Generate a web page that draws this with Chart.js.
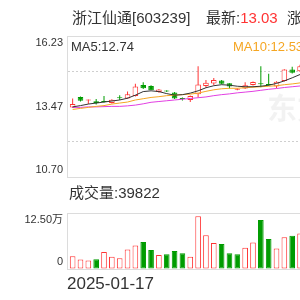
<!DOCTYPE html>
<html>
<head>
<meta charset="utf-8">
<title>浙江仙通</title>
<script src="https://cdn.jsdelivr.net/npm/chart.js@4/dist/chart.umd.min.js"></script>
<style>
  html, body { margin: 0; padding: 0; background: #fff; }
  body {
    width: 300px; height: 300px; overflow: hidden; position: relative;
    font-family: "Liberation Sans", "Noto Sans CJK SC", sans-serif; color: #333;
  }
  canvas { position: absolute; left: 0; }
  #priceChart { top: 0; }
  #volChart { top: 195px; }
  .txt { position: absolute; white-space: nowrap; }
  .big { font-size: 15px; line-height: 20px; }
  .ma { font-size: 13px; line-height: 16px; top: 39px; }
</style>
</head>
<body>
<canvas id="priceChart" width="330" height="195"></canvas>
<canvas id="volChart" width="330" height="105"></canvas>

<div class="txt big" style="left:72px; top:8px">浙江仙通[603239]</div>
<div class="txt big" style="left:206px; top:8px">最新:<span style="color:#f33">13.03</span></div>
<div class="txt big" style="left:287px; top:8px">涨幅</div>
<div class="txt ma" style="left:71px">MA5:12.74</div>
<div class="txt ma" style="left:233px; color:#f5a623">MA10:12.53</div>
<div class="txt big" style="left:69px; top:183px">成交量:39822</div>

<script>
// =========> data <=========
const dates = [
  "2025-01-17", "2025-01-20", "2025-01-21", "2025-01-22", "2025-01-23",
  "2025-01-24", "2025-01-27", "2025-02-05", "2025-02-06", "2025-02-07",
  "2025-02-10", "2025-02-11", "2025-02-12", "2025-02-13", "2025-02-14",
  "2025-02-17", "2025-02-18", "2025-02-19", "2025-02-20", "2025-02-21",
  "2025-02-24", "2025-02-25", "2025-02-26", "2025-02-27", "2025-02-28",
  "2025-03-03", "2025-03-04", "2025-03-05", "2025-03-06", "2025-03-07",
];
const openPrice = [
  13.43, 13.84, 13.70, 13.67, 13.67, 13.60, 13.82, 13.78, 13.88, 14.31,
  14.27, 14.03, 14.08, 14.01, 13.78, 13.72, 13.95, 14.27, 14.37, 14.48,
  14.38, 14.12, 14.17, 14.31, 14.36, 14.33, 14.25, 14.47, 14.92, 14.85,
];
const closePrice = [
  13.56, 13.69, 13.73, 13.60, 13.64, 13.73, 13.79, 13.95, 14.25, 14.18,
  14.10, 14.13, 14.05, 13.78, 13.76, 13.88, 14.33, 14.40, 14.50, 14.36,
  14.25, 14.16, 14.30, 14.43, 14.34, 14.31, 14.44, 14.92, 14.79, 15.04,
];
const highPrice = [
  13.78, 13.86, 13.74, 13.76, 13.88, 13.75, 13.91, 14.05, 14.36, 14.42,
  14.30, 14.15, 14.10, 14.03, 13.82, 13.90, 15.04, 14.50, 14.58, 14.50,
  14.38, 14.18, 14.42, 14.45, 15.04, 14.75, 14.46, 14.93, 15.02, 15.10,
];
const lowPrice = [
  13.42, 13.66, 13.56, 13.54, 13.62, 13.58, 13.72, 13.77, 13.86, 14.15,
  14.12, 14.00, 14.03, 13.76, 13.70, 13.64, 13.82, 14.20, 14.30, 14.34,
  14.17, 14.10, 14.15, 14.29, 14.22, 14.28, 14.18, 14.45, 14.76, 14.82,
];
const ma5 = [
  13.45, 13.50, 13.56, 13.60, 13.64, 13.68, 13.72, 13.79, 13.91, 14.05,
  14.08, 14.05, 13.97, 13.91, 13.93, 13.99, 14.08, 14.20, 14.28, 14.32,
  14.30, 14.26, 14.24, 14.24, 14.26, 14.30, 14.37, 14.47, 14.59, 14.72,
];
const ma10 = [
  13.35, 13.39, 13.43, 13.47, 13.50, 13.56, 13.60, 13.64, 13.72, 13.77,
  13.82, 13.85, 13.89, 13.91, 13.93, 13.95, 13.99, 14.06, 14.12, 14.16,
  14.18, 14.18, 14.20, 14.22, 14.24, 14.26, 14.28, 14.32, 14.35, 14.39,
];
const ma20 = [
  13.43, 13.43, 13.45, 13.45, 13.46, 13.47, 13.47, 13.49, 13.52, 13.57,
  13.63, 13.66, 13.69, 13.72, 13.75, 13.78, 13.81, 13.84, 13.89, 13.93,
  13.96, 14.00, 14.03, 14.06, 14.10, 14.14, 14.17, 14.21, 14.24, 14.27,
];
const volume = [
  28600, 21200, 19000, 21800, 38100, 27500, 24000, 43800, 52300, 60000,
  42400, 31100, 33200, 40300, 35400, 27500, 118000, 75600, 57900, 55700,
  35400, 33200, 47300, 59300, 109500, 67100, 46000, 70600, 74200, 79000,
];
const priceLabels = ["10.70", "13.47", "16.23"];
const volumeLabels = ["0", "12.50万"];
const priceMin = 10.7;
const priceMax = 16.23;
const volumeMax = 125000;

// =========> colors / fonts <=========
const RED = "#f33";
const GREEN = "#009c00";
const FRAME = "#dcdcdc";
const DASHED = "#cfcfcf";
const FONT = '"Liberation Sans", "Noto Sans CJK SC", sans-serif';

// candle color: close vs open ; volume color: close vs previous close
const isUp = closePrice.map((c, i) => c >= openPrice[i]);
const volUp = closePrice.map((c, i) => (i === 0 ? isUp[0] : c >= closePrice[i - 1]));

// same x range for both panels (offset off, or bars get squeezed)
const xAxis = { type: "linear", min: -0.72, max: 30.27, bounds: "data", offset: false };
const fixWidth = (scale) => { scale.width = 67; };
const splitTicks = (parts) => (scale) => {
  scale.ticks = [];
  for (let k = 0; k <= parts; k++) {
    scale.ticks.push({ value: scale.min + ((scale.max - scale.min) * k) / parts });
  }
};

// faint site logo behind the candles
const watermark = {
  id: "watermark",
  beforeDatasetsDraw(chart) {
    const { ctx, chartArea } = chart;
    ctx.save();
    ctx.fillStyle = "rgba(0,0,0,0.05)";
    ctx.font = 'bold 30px "Noto Sans CJK SC"';
    ctx.textBaseline = "middle";
    ctx.fillText("东方财富", chartArea.left + 200, chartArea.top + 72);
    ctx.restore();
  },
};

// =====> Chart 1: candles + moving averages <=====
const idx = closePrice.map((c, i) => i);

new Chart("priceChart", {
  type: "bar",
  data: {
    datasets: [
      {
        label: "MA5",
        type: "line",
        data: idx.map((i) => ({ x: i, y: ma5[i] })),
        borderColor: "#333",
        borderWidth: 1,
        pointRadius: 0,
        order: 0,
      },
      {
        label: "MA10",
        type: "line",
        data: idx.map((i) => ({ x: i, y: ma10[i] })),
        borderColor: "#f5a623",
        borderWidth: 1,
        pointRadius: 0,
        order: 0,
      },
      {
        label: "MA20",
        type: "line",
        data: idx.map((i) => ({ x: i, y: ma20[i] })),
        borderColor: "#e23ee2",
        borderWidth: 1,
        pointRadius: 0,
        order: 0,
      },
      {
        label: "body",
        data: idx.map((i) => ({ x: i, y: [openPrice[i], closePrice[i]] })),
        backgroundColor: isUp.map((up) => (up ? "#fff" : GREEN)),
        borderColor: isUp.map((up) => (up ? RED : GREEN)),
        borderWidth: 1,
        borderSkipped: false,
        minBarLength: 1,
        maxBarThickness: 6,
        grouped: false,
        order: 1,
      },
      {
        label: "wick",
        data: idx.map((i) => ({ x: i, y: [lowPrice[i], highPrice[i]] })),
        backgroundColor: isUp.map((up) => (up ? RED : GREEN)),
        borderWidth: 0,
        maxBarThickness: 1,
        grouped: false,
        order: 2,
      },
    ],
  },
  options: {
    responsive: false,
    animation: false,
    layout: { padding: { top: 36, bottom: 16, left: 0, right: 20 } },
    plugins: { legend: { display: false }, tooltip: { enabled: false } },
    scales: {
      x: { ...xAxis, display: false },
      y: {
        type: "linear",
        min: priceMin,
        max: priceMax,
        bounds: "data",
        afterBuildTicks: splitTicks(4),
        afterFit: fixWidth,
        ticks: {
          padding: 4,
          color: "#333",
          font: { family: FONT, size: 11, lineHeight: "14px" },
          callback: (v, i) =>
            i === 0 ? [priceLabels[0], ""] : i === 2 ? priceLabels[1] : i === 4 ? ["", priceLabels[2]] : "",
        },
        grid: {
          drawTicks: false,
          color: (c) => (c.index === 2 ? "rgba(0,0,0,0)" : c.index === 1 || c.index === 3 ? DASHED : FRAME),
        },
        border: {
          display: true,
          color: FRAME,
          dash: (c) => (c.index === 1 || c.index === 3 ? [2, 2] : []),
        },
      },
    },
  },
  plugins: [watermark],
});

// =====> Chart 2: volume <=====
new Chart("volChart", {
  type: "bar",
  data: {
    datasets: [
      {
        label: "成交量",
        data: idx.map((i) => ({ x: i, y: volume[i] })),
        backgroundColor: volUp.map((up) => (up ? "#fff" : GREEN)),
        borderColor: volUp.map((up) => (up ? RED : GREEN)),
        borderWidth: 1,
        borderSkipped: false,
        maxBarThickness: 6,
        grouped: false,
      },
    ],
  },
  options: {
    responsive: false,
    animation: false,
    layout: { padding: { top: 15, bottom: 0, left: 0, right: 20 } },
    plugins: { legend: { display: false }, tooltip: { enabled: false } },
    scales: {
      x: {
        ...xAxis,
        afterBuildTicks: (scale) => { scale.ticks = [{ value: scale.min }]; },
        afterFit: (scale) => { scale.height = 31; },
        grid: { display: false, drawTicks: false },
        border: { display: false },
        ticks: {
          align: "start",
          padding: 5,
          maxRotation: 0,
          autoSkip: false,
          color: "#333",
          font: { family: FONT, size: 17 },
          callback: () => dates[0],
        },
      },
      y: {
        type: "linear",
        min: 0,
        max: volumeMax,
        bounds: "data",
        afterBuildTicks: splitTicks(2),
        afterFit: fixWidth,
        ticks: {
          padding: 4,
          color: "#333",
          font: { family: FONT, size: 11, lineHeight: "14px" },
          callback: (v, i) => (i === 0 ? [volumeLabels[0], ""] : i === 2 ? ["", volumeLabels[1]] : ""),
        },
        grid: {
          drawTicks: false,
          color: (c) => (c.index === 1 ? DASHED : FRAME),
        },
        border: {
          display: true,
          color: FRAME,
          dash: (c) => (c.index === 1 ? [2, 2] : []),
        },
      },
    },
  },
});
</script>
</body>
</html>
